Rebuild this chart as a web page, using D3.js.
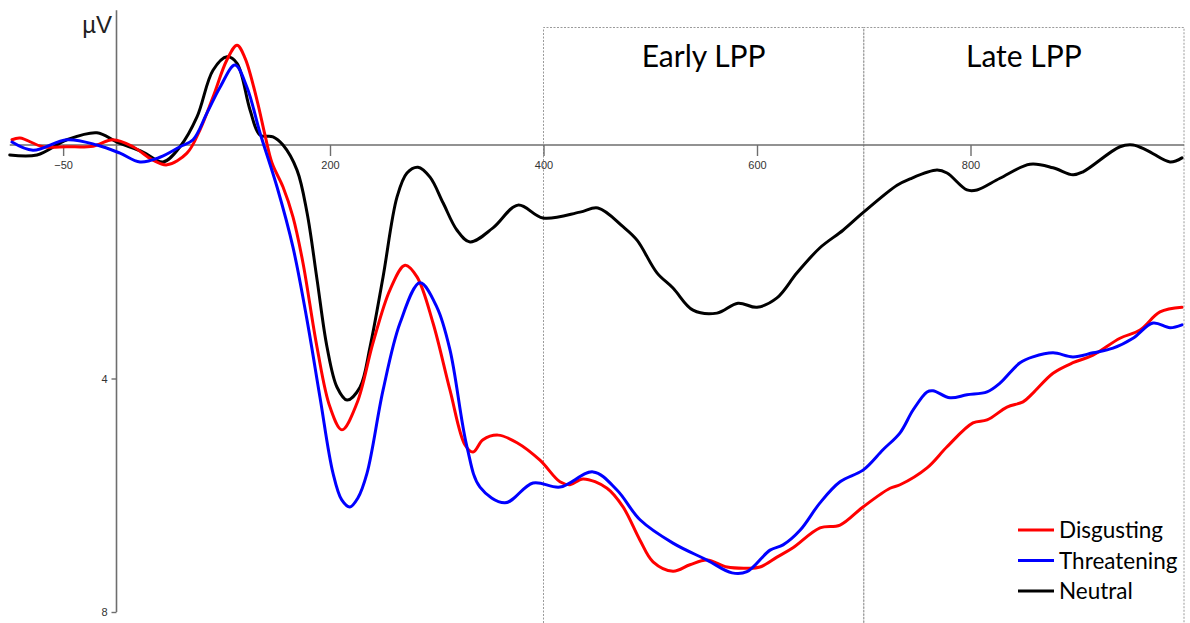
<!DOCTYPE html>
<html>
<head>
<meta charset="utf-8">
<script src="https://cdn.jsdelivr.net/npm/d3@7"></script>
<style>
  html, body { margin: 0; padding: 0; background: #fff; }
  svg { display: block; }
</style>
</head>
<body>
<svg id="chart" width="1190" height="623"></svg>
<script>
// ---- Data (time in ms, amplitude in µV; positive plotted downward) ----
const seriesNames = ["Disgusting", "Threatening", "Neutral"];
const seriesColors = ["#ff0000", "#0000ff", "#000000"];

const neutral = [
  [-100,0.17],[-74.5,0.17],[-46.4,-0.09],[-18.3,-0.21],[0.5,-0.05],[24.8,0.12],[43.6,0.29],
  [59.5,0.03],[75.4,-0.48],[90.4,-1.28],[103.5,-1.51],[112.9,-1.40],[125.1,-0.60],[134.4,-0.17],
  [146.6,-0.14],[156,0],[169.1,0.43],[178.5,1.16],[187.9,2.31],[197.2,3.46],[206.6,4.15],
  [216,4.37],[228.1,4.15],[237.5,3.46],[249.7,2.26],[262.8,0.89],[272.1,0.48],[282.4,0.38],
  [293.7,0.55],[305.9,0.99],[319,1.46],[331.2,1.66],[352.7,1.42],[376.1,1.03],[399.5,1.25],
  [434.2,1.15],[451,1.08],[474.5,1.40],[487.6,1.63],[506.3,2.19],[521.3,2.45],[540.1,2.83],
  [562.5,2.88],[582.2,2.71],[600,2.78],[618.7,2.62],[637.5,2.19],[659,1.76],[680.6,1.46],
  [699.3,1.16],[731.2,0.69],[743.3,0.58],[768.6,0.43],[778,0.48],[796.7,0.77],[806.1,0.77],
  [827.6,0.57],[855.7,0.33],[877.3,0.39],[896,0.51],[905.4,0.46],[940,0.03],[952.2,0],
  [965.3,0.09],[986.9,0.29],[998.1,0.22]
];

const disgusting = [
  [-97.9,-0.09],[-90.4,-0.12],[-68.9,0.03],[-46.4,0.03],[-22,0.02],[-3.3,-0.09],[15.5,0.03],
  [34.2,0.26],[47.3,0.34],[66,0.14],[78.2,-0.26],[90.4,-0.82],[103.5,-1.46],[112.9,-1.71],
  [120.4,-1.49],[131.6,-0.77],[139.1,-0.17],[145.7,0.31],[156,0.72],[165.3,1.23],[174.7,2.02],
  [187.8,3.46],[200,4.49],[211.2,4.88],[225.3,4.42],[240.3,3.39],[256.2,2.48],[270.3,2.06],
  [281.5,2.26],[296.5,3.05],[312.4,4.20],[326.5,5.14],[334,5.26],[343.3,5.05],[357.4,4.97],
  [375.2,5.10],[396.7,5.40],[415.4,5.77],[424.8,5.82],[437,5.72],[459.5,5.88],[474.5,6.20],
  [490.4,6.77],[502.6,7.14],[521.3,7.30],[537.2,7.19],[553.2,7.11],[571.9,7.23],[590.6,7.25],
  [602.8,7.23],[618.7,7.06],[633.7,6.90],[659,6.56],[677.8,6.51],[699.3,6.20],[724.6,5.88],
  [734,5.82],[759.3,5.53],[778,5.17],[802.3,4.76],[815.5,4.71],[834.2,4.49],[849.2,4.40],
  [858.5,4.25],[877.3,3.91],[896,3.73],[914.8,3.60],[940,3.31],[958.8,3.17],[977.5,2.86],
  [998.1,2.78]
];

const threatening = [
  [-97.9,-0.05],[-78.2,0.09],[-46.4,-0.09],[-18.3,0],[3.3,0.14],[22,0.29],[40.7,0.21],
  [59.5,0.03],[71.7,-0.09],[84.8,-0.55],[97,-0.99],[111,-1.37],[122.2,-0.99],[134.4,-0.21],
  [150.4,0.72],[165.3,1.75],[178.5,3.00],[190.6,4.32],[202.8,5.62],[211,6.08],[218.7,6.20],
  [226,6.05],[234.7,5.62],[249.7,4.20],[265.6,3.05],[284.3,2.36],[300.2,2.78],[312.4,3.51],
  [328.3,5.17],[340.5,5.86],[363.9,6.13],[390.2,5.79],[415.4,5.86],[446.4,5.60],[468.8,5.91],
  [490.4,6.42],[521.3,6.82],[553.2,7.11],[576.6,7.33],[590.6,7.31],[612.2,6.94],[624.4,6.85],
  [640.3,6.60],[659,6.13],[677.8,5.77],[699.3,5.57],[718,5.22],[734,4.93],[746.2,4.54],
  [759.3,4.23],[764.9,4.21],[780.8,4.33],[796.7,4.28],[815.5,4.23],[827.6,4.08],[846.4,3.73],
  [858.5,3.63],[877.3,3.56],[896,3.63],[914.8,3.56],[933.5,3.48],[952.2,3.31],[971,3.05],
  [986.9,3.13],[998.1,3.08]
];

const xTicks = [-50, 200, 400, 600, 800];
const yTicks = [4, 8];
const windows = [
  {label: "Early LPP", start: 400, end: 700},
  {label: "Late LPP", start: 700, end: 1000}
];
const timeDomain = [-100, 1000];
const yTop = -2.31;

// ---- Scales ----
const svg = d3.select("#chart");
const x = d3.scaleLinear().domain(timeDomain).range([9.75, 1184]);
const y = d3.scaleLinear().domain([0, 8]).range([145, 612]);

// ---- LPP windows (dashed boxes) ----
const boxTop = 27.5;
const gWin = svg.append("g");
windows.forEach(w => {
  gWin.append("path")
    .attr("d", `M${x(w.start)},623 V${boxTop} H${x(w.end)} V623`)
    .attr("fill", "none")
    .attr("stroke", "#9a9a9a")
    .attr("stroke-width", 1)
    .attr("stroke-dasharray", "2,1.5");
  gWin.append("text")
    .attr("x", (x(w.start) + x(w.end)) / 2)
    .attr("y", 67)
    .attr("text-anchor", "middle")
    .attr("font-family", "Lato, 'Open Sans', sans-serif")
    .attr("font-size", 30)
    .attr("fill", "#000")
    .text(w.label);
});

// ---- Axes ----
const axisColor = "#6e6e6e";
svg.append("line")
  .attr("x1", x(timeDomain[0])).attr("x2", x(timeDomain[1]))
  .attr("y1", y(0)).attr("y2", y(0))
  .attr("stroke", axisColor).attr("stroke-width", 1.6);
svg.append("line")
  .attr("x1", x(0)).attr("x2", x(0))
  .attr("y1", y(yTop)).attr("y2", y(8))
  .attr("stroke", axisColor).attr("stroke-width", 1.6);

const xAxis = d3.axisBottom(x).tickValues(xTicks).tickSize(11).tickPadding(5)
  .tickFormat(d3.format("d"));
const gx = svg.append("g").attr("transform", `translate(0,${y(0)})`).call(xAxis);
gx.select(".domain").remove();
gx.selectAll(".tick line").attr("stroke", axisColor).attr("stroke-width", 1.4);
gx.selectAll(".tick text").attr("fill", "#333")
  .attr("font-family", "'Liberation Sans', Arial, sans-serif").attr("font-size", 11);

const yAxis = d3.axisLeft(y).tickValues(yTicks).tickSize(5).tickPadding(4)
  .tickFormat(d3.format("d"));
const gy = svg.append("g").attr("transform", `translate(${x(0)},0)`).call(yAxis);
gy.select(".domain").remove();
gy.selectAll(".tick line").attr("stroke", axisColor).attr("stroke-width", 1.4);
gy.selectAll(".tick text").attr("fill", "#333")
  .attr("font-family", "'Liberation Sans', Arial, sans-serif").attr("font-size", 11);

svg.append("text")
  .attr("x", 112).attr("y", 33)
  .attr("text-anchor", "end")
  .attr("font-family", "'Liberation Sans', Arial, sans-serif")
  .attr("font-size", 24)
  .attr("fill", "#222")
  .text("µV");

// ---- Waveforms ----
const line = d3.line()
  .x(d => x(d[0]))
  .y(d => y(d[1]))
  .curve(d3.curveCatmullRom.alpha(0.5));

const seriesData = [disgusting, threatening, neutral];
[2, 0, 1].forEach(i => {
  svg.append("path")
    .datum(seriesData[i])
    .attr("d", line)
    .attr("fill", "none")
    .attr("stroke", seriesColors[i])
    .attr("stroke-width", 3)
    .attr("stroke-linejoin", "round")
    .attr("stroke-linecap", "round");
});

// ---- Legend ----
const legend = svg.append("g").attr("transform", "translate(1018,530)");
seriesNames.forEach((name, i) => {
  const g = legend.append("g").attr("transform", `translate(0,${i * 30.5})`);
  g.append("line").attr("x1", 0).attr("x2", 36).attr("y1", 0).attr("y2", 0)
    .attr("stroke", seriesColors[i]).attr("stroke-width", 3);
  g.append("text").attr("x", 41).attr("y", 8)
    .attr("font-family", "Lato, 'Open Sans', sans-serif")
    .attr("font-size", 22.5)
    .attr("fill", "#000")
    .text(name);
});
</script>
</body>
</html>
